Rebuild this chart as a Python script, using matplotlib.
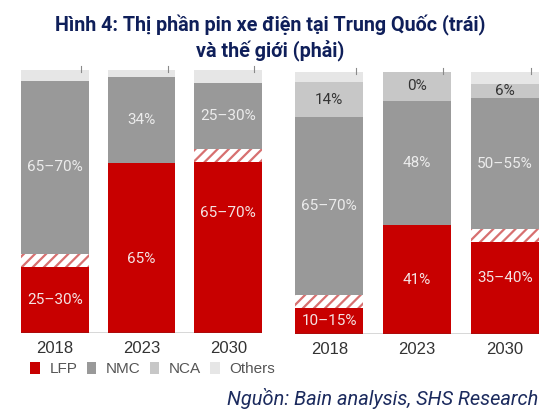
import matplotlib
matplotlib.use("Agg")
import matplotlib.pyplot as plt
from matplotlib.patches import Patch
import numpy as np

# ***************************
# Data (% share)
# ***************************
years = ['2018', '2023', '2030']

china_lfp = [25, 64.5, 65]
china_range = [5, 0, 5]          # hatched uncertainty band above LFP
china_nmc = [66, 33, 25]
china_nca = [0, 0, 0]
china_other = [4, 2.5, 5]
china_lfp_lbl = ['25–30%', '65%', '65–70%']
china_nmc_lbl = ['65–70%', '34%', '25–30%']
china_nca_lbl = ['', '', '']

world_lfp = [10, 41.5, 35]
world_range = [5, 0, 5]
world_nmc = [68, 47.5, 50]
world_nca = [13, 11, 5.5]
world_other = [4, 0, 4.5]
world_lfp_lbl = ['10–15%', '41%', '35–40%']
world_nmc_lbl = ['65–70%', '48%', '50–55%']
world_nca_lbl = ['14%', '0%', '6%']

legend_names = ['LFP', 'NMC', 'NCA', 'Others']

# ***************************
# Style
# ***************************
RED = '#c80000'
NMC_C = '#999999'
NCA_C = '#c7c7c7'
OTH_C = '#e6e6e6'
HATCH_C = '#d77070'
NAVY = '#0f1f5a'

plt.rcParams['font.family'] = ['Roboto', 'DejaVu Sans']
plt.rcParams['hatch.linewidth'] = 1.6

fig = plt.figure(figsize=(5.53, 4.15), dpi=100)
ax_l = fig.add_axes([0.038, 0.1976, 0.4358, 0.6337])
ax_r = fig.add_axes([0.5335, 0.1952, 0.4412, 0.6313])


def draw_panel(ax, lfp, rng, nmc, nca, other, lfp_lbl, nmc_lbl, nca_lbl, lfp_nudge):
    x = np.arange(len(years))
    w = 0.78
    lfp = np.array(lfp, float)
    rng = np.array(rng, float)
    nmc = np.array(nmc, float)
    nca = np.array(nca, float)
    other = np.array(other, float)

    ax.bar(x, lfp, w, color=RED, linewidth=0)
    b1 = lfp
    ax.bar(x, rng, w, bottom=b1, facecolor='white', edgecolor=HATCH_C,
           hatch='///', linewidth=0)
    b2 = b1 + rng
    ax.bar(x, nmc, w, bottom=b2, color=NMC_C, linewidth=0)
    b3 = b2 + nmc
    ax.bar(x, nca, w, bottom=b3, color=NCA_C, linewidth=0)
    b4 = b3 + nca
    ax.bar(x, other, w, bottom=b4, color=OTH_C, linewidth=0)

    for i in range(len(years)):
        ax.text(x[i], lfp[i] / 2 + lfp_nudge[i], lfp_lbl[i], ha='center', va='center',
                color='#f4e4e4', fontsize=11)
        ax.text(x[i], b2[i] + nmc[i] / 2, nmc_lbl[i], ha='center', va='center',
                color='#ececec', fontsize=11)
        if nca_lbl[i]:
            ax.text(x[i], b3[i] + nca[i] / 2, nca_lbl[i], ha='center', va='center',
                    color='#333333', fontsize=11)
        # small tick marks above the bars
        ax.plot([x[i] + 0.3] * 2, [99.3, 101.5], color='#8a8a8a', lw=0.8, clip_on=False)

    ax.axhline(0, color='#3a3a3a', lw=1.0, xmin=0, xmax=1)
    ax.set_xlim(-w / 2, len(years) - 1 + w / 2)
    ax.set_ylim(0, 100)
    ax.set_xticks(x)
    ax.set_xticklabels(years, fontsize=12, color='#333333',
                       family=['Liberation Sans', 'DejaVu Sans'])
    ax.tick_params(axis='x', length=0, pad=6)
    ax.set_yticks([])
    for s in ax.spines.values():
        s.set_visible(False)


draw_panel(ax_l, china_lfp, china_range, china_nmc, china_nca, china_other,
           china_lfp_lbl, china_nmc_lbl, china_nca_lbl, [0, -4, 13])
draw_panel(ax_r, world_lfp, world_range, world_nmc, world_nca, world_other,
           world_lfp_lbl, world_nmc_lbl, world_nca_lbl, [0, 0, 4])

# ***************************
# Title, legend, source
# ***************************
fig.text(0.489, 1 - 31 / 415, 'Hình 4: Thị phần pin xe điện tại Trung Quốc (trái)',
         ha='center', va='baseline', fontsize=14.2, fontweight='bold', color=NAVY)
fig.text(0.489, 1 - 57 / 415, 'và thế giới (phải)',
         ha='center', va='baseline', fontsize=14.2, fontweight='bold', color=NAVY)

handles = [Patch(facecolor=c, edgecolor='none') for c in [RED, NMC_C, NCA_C, OTH_C]]
fig.legend(handles, legend_names, loc='center left', bbox_to_anchor=(0.055, 0.111),
           ncol=4, frameon=False, handlelength=0.65, handleheight=0.8,
           handletextpad=0.6, columnspacing=0.6, borderpad=0, borderaxespad=0,
           labelcolor='#555555', prop={'family': ['Liberation Sans', 'DejaVu Sans'], 'size': 11})

fig.text(0.973, 1 - 405 / 415, 'Nguồn: Bain analysis, SHS Research',
         ha='right', va='baseline', fontsize=14.4, style='italic', color='#1c2b5e')

fig.savefig('out.png', dpi=100)
